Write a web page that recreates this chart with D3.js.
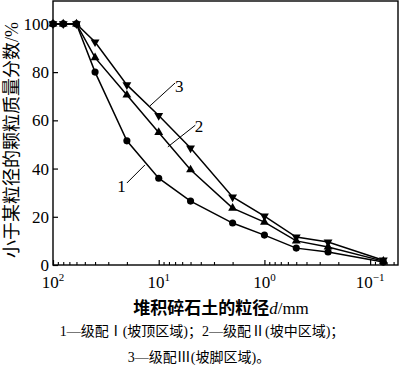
<!DOCTYPE html>
<html>
    <head>
        <script src="https://cdnjs.cloudflare.com/ajax/libs/d3/7.8.5/d3.min.js"></script>
        <title>粒径分布曲线</title>
        <style>
            html, body {
                margin: 0;
                background: #fff;
            }
            svg {
                display: block;
            }
            .num {
                font-family: "Liberation Serif", "Times New Roman", serif;
            }
            .cjk {
                font-family: "Liberation Serif", "Noto Sans CJK SC", serif;
            }
        </style>
    </head>
    <body>
        <svg width="400" height="367"></svg>

        <script>
            // sieve sizes in mm, x axis runs from coarse to fine
            var sizes = [100, 80, 60, 40, 20, 10, 5, 2, 1, 0.5, 0.25, 0.075];

            // percent finer than each size
            var grade1 = [100, 100, 100, 80, 51.5, 36, 26.5, 17.4, 12.4, 7, 5.4, 1.2];
            var grade2 = [100, 100, 100, 86, 70.5, 55, 39.5, 23.6, 17.8, 10, 7.5, 1.6];
            var grade3 = [100, 100, 100, 92.5, 74.7, 62, 48.5, 28.2, 20.3, 11.6, 9.5, 2.0];

            var yTicks = [0, 20, 40, 60, 80, 100];
            var xMajor = [100, 10, 1, 0.1];
            var xExp = ["2", "1", "0", "\u22121"];

            // plot box (window.top is reserved, so prefixed names)
            var plotL = 53, plotR = 398, plotT = 1, plotB = 265;

            var svg = d3.select("svg");

            var x = d3.scaleLog().domain([100, 0.0545]).range([plotL, plotR]);
            var y = d3.scaleLinear().domain([0, 109.5]).range([plotB, plotT]);

            // minor ticks 2..9 of each decade inside the domain
            var xMinor = [];
            [10, 1, 0.1, 0.01].forEach(function(base) {
                for (var k = 2; k <= 9; k++) {
                    var v = base * k;
                    if (v < 100 && v > 0.0545) xMinor.push(v);
                }
            });

            // frame
            svg.append("rect")
                .attr("x", plotL).attr("y", plotT)
                .attr("width", plotR - plotL).attr("height", plotB - plotT)
                .attr("fill", "none").attr("stroke", "#000").attr("stroke-width", 1.4);

            // x axis ticks (inward)
            svg.append("g")
                .attr("transform", "translate(0," + plotB + ")")
                .call(d3.axisBottom(x).tickValues(xMinor).tickSize(-3).tickFormat("").tickSizeOuter(0))
                .call(function(g) { g.select(".domain").remove(); })
                .selectAll("line").attr("stroke-width", 1.1);

            svg.append("g")
                .attr("transform", "translate(0," + plotB + ")")
                .call(d3.axisBottom(x).tickValues(xMajor).tickSize(-5).tickFormat("").tickSizeOuter(0))
                .call(function(g) { g.select(".domain").remove(); })
                .selectAll("line").attr("stroke-width", 1.2);

            var xl = svg.append("g").selectAll("text")
                .data(xMajor)
                .enter().append("text")
                .attr("class", "num")
                .attr("x", function(d) { return x(d); })
                .attr("y", 288)
                .attr("text-anchor", "middle")
                .attr("font-size", 17);
            xl.append("tspan").text("10");
            xl.append("tspan")
                .attr("dy", -7)
                .attr("font-size", 11)
                .text(function(d, i) { return xExp[i]; });

            // y axis
            svg.append("g")
                .attr("transform", "translate(" + plotL + ",0)")
                .call(d3.axisLeft(y).tickValues(yTicks).tickSize(-5).tickPadding(4).tickSizeOuter(0))
                .call(function(g) {
                    g.select(".domain").remove();
                    g.selectAll("line").attr("stroke-width", 1.2);
                    g.selectAll("text")
                        .attr("class", "num")
                        .attr("font-size", 17)
                        .attr("fill", "#000");
                })
                .attr("font-family", null)
                .attr("font-size", null);

            var series = [
                { id: "3", values: grade3, marker: "down" },
                { id: "2", values: grade2, marker: "up" },
                { id: "1", values: grade1, marker: "circle" }
            ];

            var line = d3.line()
                .x(function(d) { return x(d[0]); })
                .y(function(d) { return y(d[1]); });

            var tri = d3.symbol().type(d3.symbolTriangle).size(34);
            var dot = d3.symbol().type(d3.symbolCircle).size(40);

            series.forEach(function(s) {
                var pts = sizes.map(function(v, i) { return [v, s.values[i]]; });
                var g = svg.append("g");
                g.append("path")
                    .datum(pts)
                    .attr("d", line)
                    .attr("fill", "none")
                    .attr("stroke", "#000")
                    .attr("stroke-width", 1.5);
                g.selectAll(".m")
                    .data(pts)
                    .enter().append("path")
                    .attr("d", s.marker == "circle" ? dot : tri)
                    .attr("transform", function(d) {
                        var t = "translate(" + x(d[0]) + "," + y(d[1]) + ")";
                        return s.marker == "down" ? t + " rotate(180)" : t;
                    })
                    .attr("fill", "#000");
            });

            // curve labels with leader lines (data units)
            var labels = [
                { text: "1", from: [20, 34], to: [13.5, 41.5], pos: [22.5, 30.3] },
                { text: "2", from: [8.2, 49], to: [4.5, 58], pos: [4.15, 55.2] },
                { text: "3", from: [12.1, 66], to: [7.0, 75.5], pos: [6.4, 71.8] }
            ];

            labels.forEach(function(l) {
                svg.append("line")
                    .attr("x1", x(l.from[0])).attr("y1", y(l.from[1]))
                    .attr("x2", x(l.to[0])).attr("y2", y(l.to[1]))
                    .attr("stroke", "#000").attr("stroke-width", 1);
                svg.append("text")
                    .attr("class", "num")
                    .attr("x", x(l.pos[0]))
                    .attr("y", y(l.pos[1]))
                    .attr("text-anchor", "middle")
                    .attr("font-size", 17)
                    .text(l.text);
            });

            // axis titles
            svg.append("text")
                .attr("class", "cjk")
                .attr("transform", "translate(18,140) rotate(-90)")
                .attr("text-anchor", "middle")
                .attr("font-size", 18)
                .text("小于某粒径的颗粒质量分数/%");

            var xt = svg.append("text")
                .attr("class", "cjk")
                .attr("x", 221)
                .attr("y", 314)
                .attr("text-anchor", "middle")
                .attr("font-size", 17)
                .attr("font-weight", "bold");
            xt.append("tspan").text("堆积碎石土的粒径");
            xt.append("tspan").attr("font-style", "italic").attr("font-weight", "normal").text("d");
            xt.append("tspan").attr("font-weight", "normal").text("/mm");

            // caption
            svg.append("text")
                .attr("class", "cjk")
                .attr("x", 202).attr("y", 336)
                .attr("text-anchor", "middle")
                .attr("font-size", 14)
                .text("1—级配Ⅰ(坡顶区域)；2—级配Ⅱ(坡中区域)；");
            svg.append("text")
                .attr("class", "cjk")
                .attr("x", 199).attr("y", 362)
                .attr("text-anchor", "middle")
                .attr("font-size", 14)
                .text("3—级配Ⅲ(坡脚区域)。");
        </script>
    </body>
</html>
